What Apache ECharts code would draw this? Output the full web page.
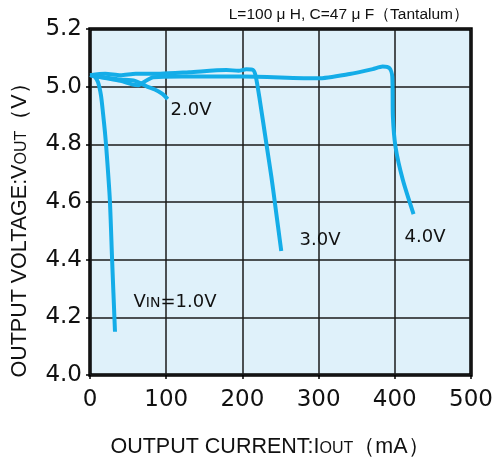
<!DOCTYPE html>
<html>
<head>
<meta charset="utf-8">
<script src="https://cdn.jsdelivr.net/npm/echarts@6/dist/echarts.min.js"></script>
<style>
html,body{margin:0;padding:0;background:#fff;}
#c{width:496px;height:462px;}
</style>
</head>
<body>
<div id="c"></div>
<script>
// ---- data (output current mA, output voltage V) ----
const xTicks = [0, 100, 200, 300, 400, 500];
const yTicks = [4.0, 4.2, 4.4, 4.6, 4.8, 5.0, 5.2];

const vin1 = [[0,5.04],[1.3,5.04],[6,5.035],[10.5,5.016],[14.4,4.97],[17,4.91],[19.7,4.84],[21.6,4.78],[26,4.61],[29,4.40],[32.8,4.15]];
const vin2 = [[0,5.04],[10,5.035],[25,5.03],[40,5.025],[59,5.02],[75,5.0],[85,4.99],[95,4.975],[102,4.957]];
const vin3 = [[0,5.04],[20,5.045],[40,5.04],[60,5.045],[92,5.045],[130,5.05],[179,5.058],[195,5.055],[205,5.06],[214,5.058],[217.6,5.035],[222.8,4.954],[231.6,4.80],[238,4.688],[242.5,4.60],[246.8,4.514],[251,4.43]];
const vin4 = [[0,5.04],[20,5.03],[40,5.02],[55,5.008],[63,5.005],[72,5.018],[83,5.033],[120,5.035],[200,5.035],[299,5.029],[340.7,5.044],[371,5.061],[384,5.07],[393,5.064],[396.7,5.035],[397.5,4.896],[401,4.79],[410.6,4.676],[424.6,4.558]];

const curveNames = ['VIN=1.0V','2.0V','3.0V','4.0V'];
const note = 'L=100 μ H, C=47 μ F（Tantalum）';

const chart = echarts.init(document.getElementById('c'));
const lineColor = '#14ade8';
function mk(name, data){
  return {name:name, type:'line', data:data, showSymbol:false, smooth:0.25,
    lineStyle:{color:lineColor, width:4}, z:5};
}
chart.setOption({
  animation:false,
  grid:{left:90, right:25, top:29, bottom:87, show:true, backgroundColor:'#dff1fa', borderColor:'#000', borderWidth:3.5},
  xAxis:{type:'value', min:xTicks[0], max:xTicks[xTicks.length-1], interval:100,
    axisLine:{show:false}, axisTick:{show:true, length:4, lineStyle:{color:'#000', width:1.5}},
    axisLabel:{margin:14, color:'#111', fontFamily:'DejaVu Sans', fontSize:23},
    splitLine:{show:true, lineStyle:{color:'#1a1a1a', width:1.5}}},
  yAxis:{type:'value', min:yTicks[0], max:yTicks[yTicks.length-1], interval:0.2,
    axisLine:{show:false}, axisTick:{show:true, length:4, lineStyle:{color:'#000', width:1.5}},
    axisLabel:{margin:8, color:'#111', fontFamily:'DejaVu Sans', fontSize:23, formatter:function(v){return v.toFixed(1);}},
    splitLine:{show:true, lineStyle:{color:'#1a1a1a', width:1.5}}},
  series:[mk(curveNames[0],vin1), mk(curveNames[1],vin2), mk(curveNames[2],vin3), mk(curveNames[3],vin4)],
  graphic:[
    {type:'text', x:469, y:15, style:{text:note, align:'right', verticalAlign:'middle', font:'15.5px "Liberation Sans", Arial, sans-serif', fill:'#111'}},
    {type:'text', x:270, y:447, style:{text:'{a|OUTPUT CURRENT:I}{b|OUT}{a|（mA）}', align:'center', verticalAlign:'middle',
      rich:{a:{fontFamily:'Liberation Sans', fontSize:21.5, fill:'#111'}, b:{fontFamily:'Liberation Sans', fontSize:16, fill:'#111', padding:[4,0,0,0]}}}},
    {type:'text', x:20, y:225, rotation:Math.PI/2, style:{text:'{a|OUTPUT VOLTAGE:V}{b|OUT}{a|（V）}', align:'center', verticalAlign:'middle',
      rich:{a:{fontFamily:'Liberation Sans', fontSize:21.5, fill:'#111'}, b:{fontFamily:'Liberation Sans', fontSize:16, fill:'#111', padding:[4,0,0,0]}}}},
    {type:'text', x:191, y:110, z:10, style:{text:curveNames[1], align:'center', verticalAlign:'middle', font:'18px "DejaVu Sans"', fill:'#111'}},
    {type:'text', x:320, y:240, z:10, style:{text:curveNames[2], align:'center', verticalAlign:'middle', font:'18px "DejaVu Sans"', fill:'#111'}},
    {type:'text', x:425, y:237, z:10, style:{text:curveNames[3], align:'center', verticalAlign:'middle', font:'18px "DejaVu Sans"', fill:'#111'}},
    {type:'text', x:175, y:302, z:10, style:{text:'{a|V}{b|IN}{a|=1.0V}', align:'center', verticalAlign:'middle',
      rich:{a:{fontFamily:'DejaVu Sans', fontSize:18, fill:'#111'}, b:{fontFamily:'DejaVu Sans', fontSize:14, fill:'#111', padding:[3,0,0,0]}}}}
  ]
});
</script>
</body>
</html>
